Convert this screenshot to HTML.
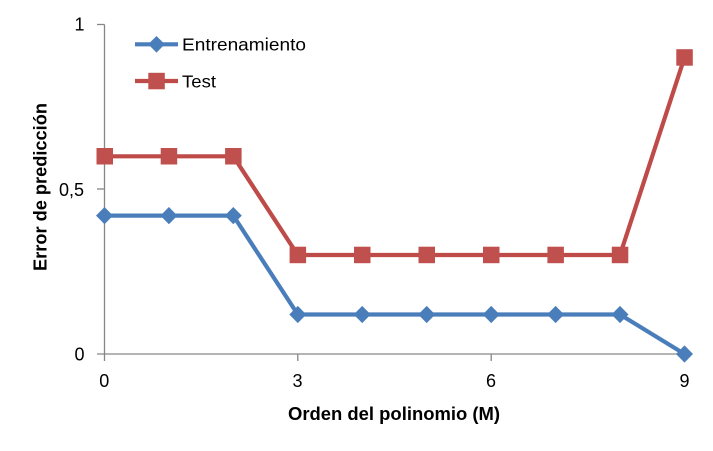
<!DOCTYPE html>
<html><head><meta charset="utf-8"><style>
html,body{margin:0;padding:0;background:#fff;}
svg{display:block;}
text{font-family:"Liberation Sans",sans-serif;fill:#000;}
</style></head><body>
<svg width="713" height="451" viewBox="0 0 713 451" xmlns="http://www.w3.org/2000/svg">
<rect width="713" height="451" fill="#fff"/>
<!-- axes -->
<g stroke="#868686" stroke-width="1.3" fill="none">
<line x1="104.5" y1="24.5" x2="104.5" y2="354"/>
<line x1="97" y1="354" x2="685" y2="354"/>
<line x1="97" y1="24.5" x2="104.5" y2="24.5"/>
<line x1="97" y1="189" x2="104.5" y2="189"/>
<line x1="104.5" y1="354" x2="104.5" y2="361"/>
<line x1="297.8" y1="354" x2="297.8" y2="361"/>
<line x1="491.2" y1="354" x2="491.2" y2="361"/>
<line x1="684.5" y1="354" x2="684.5" y2="361"/>
</g>
<!-- y tick labels -->
<g font-size="18" text-anchor="end">
<text x="84.5" y="30.5">1</text>
<text x="84" y="196">0,5</text>
<text x="84.5" y="360.5">0</text>
</g>
<!-- x tick labels -->
<g font-size="18" text-anchor="middle">
<text x="104.3" y="387">0</text>
<text x="297.5" y="387">3</text>
<text x="491" y="387">6</text>
<text x="684.5" y="387">9</text>
</g>
<!-- axis titles -->
<text x="394" y="420" font-size="18" font-weight="bold" text-anchor="middle" textLength="212" lengthAdjust="spacingAndGlyphs">Orden del polinomio (M)</text>
<text transform="translate(46.5,187) rotate(-90)" font-size="18" font-weight="bold" text-anchor="middle" textLength="168" lengthAdjust="spacingAndGlyphs">Error de predicción</text>
<!-- Test series -->
<polyline fill="none" stroke="#BE4B48" stroke-width="4.2" stroke-linejoin="round" points="104.5,156.3 168.9,156.3 233.3,156.3 297.8,255 362.2,255 426.7,255 491.2,255 555.6,255 620,255 684.5,57.5"/>
<g fill="#C0504D">
<rect x="96.5" y="148" width="16.5" height="16.5"/>
<rect x="160.7" y="148" width="16.5" height="16.5"/>
<rect x="225.1" y="148" width="16.5" height="16.5"/>
<rect x="289.6" y="246.7" width="16.5" height="16.5"/>
<rect x="354" y="246.7" width="16.5" height="16.5"/>
<rect x="418.5" y="246.7" width="16.5" height="16.5"/>
<rect x="483" y="246.7" width="16.5" height="16.5"/>
<rect x="547.4" y="246.7" width="16.5" height="16.5"/>
<rect x="611.8" y="246.7" width="16.5" height="16.5"/>
<rect x="676.3" y="49.2" width="16.5" height="16.5"/>
</g>
<!-- Training series -->
<polyline fill="none" stroke="#4A7EBB" stroke-width="4.2" stroke-linejoin="round" points="104.5,215.6 168.9,215.6 233.3,215.6 297.8,314.5 362.2,314.5 426.7,314.5 491.2,314.5 555.6,314.5 620,314.5 684.5,354"/>
<g fill="#4A7EBB">
<polygon points="104.5,207 113,215.6 104.5,224.2 96,215.6"/>
<polygon points="168.9,207 177.4,215.6 168.9,224.2 160.4,215.6"/>
<polygon points="233.3,207 241.8,215.6 233.3,224.2 224.8,215.6"/>
<polygon points="297.8,305.9 306.3,314.5 297.8,323.1 289.3,314.5"/>
<polygon points="362.2,305.9 370.7,314.5 362.2,323.1 353.7,314.5"/>
<polygon points="426.7,305.9 435.2,314.5 426.7,323.1 418.2,314.5"/>
<polygon points="491.2,305.9 499.7,314.5 491.2,323.1 482.7,314.5"/>
<polygon points="555.6,305.9 564.1,314.5 555.6,323.1 547.1,314.5"/>
<polygon points="620,305.9 628.5,314.5 620,323.1 611.5,314.5"/>
<polygon points="684.5,345.4 693,354 684.5,362.6 676,354"/>
</g>
<!-- legend -->
<line x1="135" y1="44.3" x2="178" y2="44.3" stroke="#4A7EBB" stroke-width="4.2"/>
<polygon points="156.5,36 164.8,44.3 156.5,52.6 148.2,44.3" fill="#4A7EBB"/>
<text x="182" y="50.5" font-size="17.5" textLength="124" lengthAdjust="spacingAndGlyphs">Entrenamiento</text>
<line x1="135" y1="81" x2="178" y2="81" stroke="#BE4B48" stroke-width="4.2"/>
<rect x="148.3" y="72.8" width="16.5" height="16.5" fill="#C0504D"/>
<text x="182" y="87.3" font-size="17.5" textLength="34" lengthAdjust="spacingAndGlyphs">Test</text>
</svg>
</body></html>
